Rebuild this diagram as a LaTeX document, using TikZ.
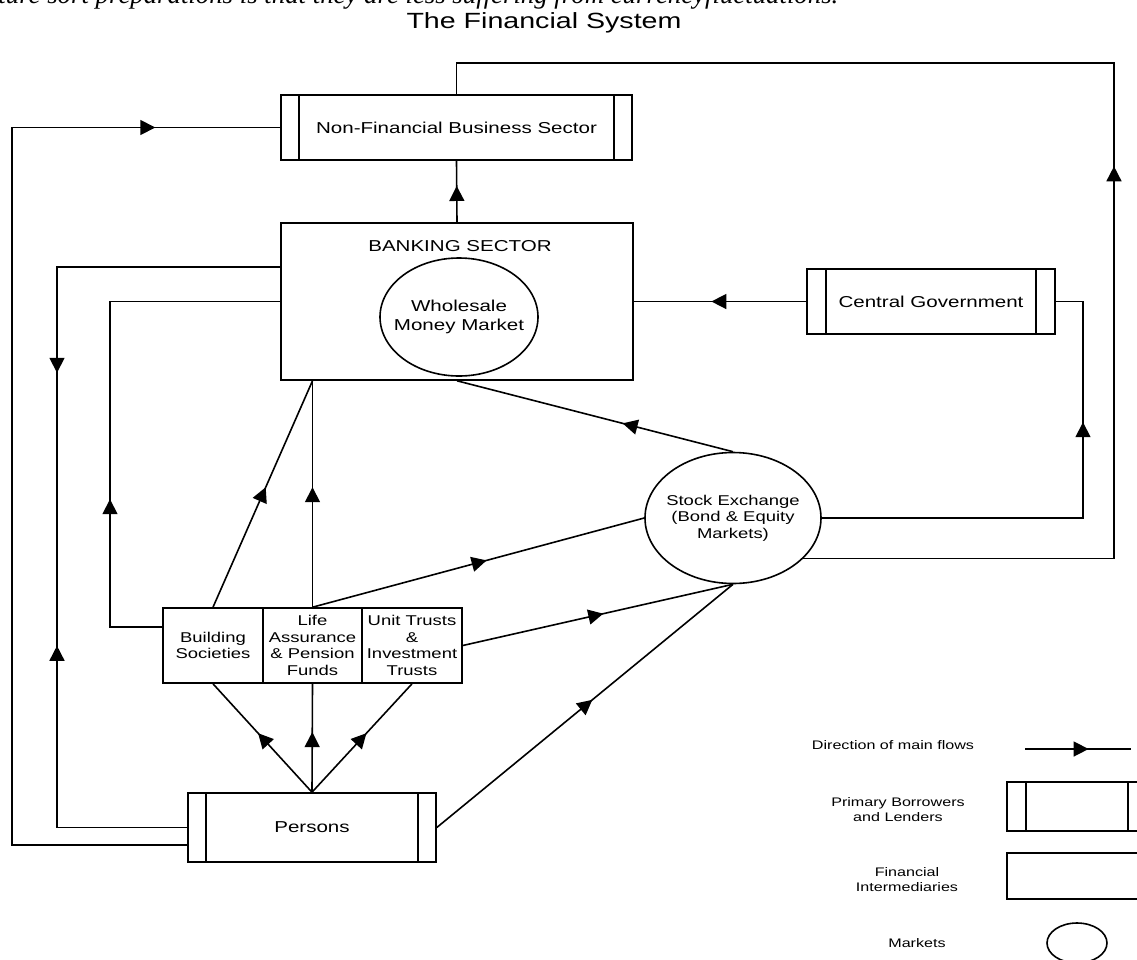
\documentclass[tikz,border=0pt]{standalone}
\usepackage{fontspec}
\setmainfont{Liberation Sans}[FakeStretch=1.3]
\newfontfamily\bodyserif{Liberation Serif}
\usetikzlibrary{arrows.meta,decorations.markings,shapes.geometric,calc}
\newcommand\mainlbl{\fontsize{7.9}{9.6}\selectfont}
\newcommand\smalllbl{\fontsize{7.1}{8.25}\selectfont}
\newcommand\leglbl{\fontsize{6.2}{7.5}\selectfont}
\newcommand\ttlfont{\fontsize{11}{13}\selectfont}
\tikzset{
  flow/.style={draw=black, line width=0.8pt},
  tipat/.style={postaction={decorate,decoration={markings,mark=at position #1 with {\arrow{Triangle[length=7.5pt,width=7.5pt]}}}}},
  tipback/.style={postaction={decorate,decoration={markings,mark=at position #1 with {\arrowreversed{Triangle[length=7.5pt,width=7.5pt]}}}}},
  primary/.style={draw=black, line width=0.8pt, rectangle, inner sep=0pt, align=center, font=\mainlbl,
    path picture={
      \draw[line width=0.8pt] ([xshift=#1]path picture bounding box.north west) -- ([xshift=#1]path picture bounding box.south west);
      \draw[line width=0.8pt] ([xshift=-#1]path picture bounding box.north east) -- ([xshift=-#1]path picture bounding box.south east);
    }},
  primary/.default=9pt,
  interm/.style={draw=black, line width=0.8pt, rectangle, inner sep=0pt, align=center, font=\smalllbl},
  market/.style={draw=black, line width=0.8pt, ellipse, inner sep=0pt},
  lbl/.style={inner sep=0pt, align=center},
}
\begin{document}
\begin{tikzpicture}[x=0.5pt,y=-0.5pt]
\useasboundingbox (0,0) rectangle (1137,960);

% stray line of text and title
\node[font=\bodyserif\itshape\fontsize{13.4}{15}\selectfont, anchor=base west, inner sep=0pt] (topline) at (-2,3) {ture sort preparations is that they are less suffering from currencyfluctuations.};
\node[lbl, font=\ttlfont] (title) at (544,23) {The Financial System};

% main nodes
\node[primary, minimum width=175.5pt, minimum height=32.5pt] (nfbs) at (456.5,127.5) {Non-Financial Business Sector};
\node[interm, minimum width=176pt, minimum height=78.5pt] (bank) at (457,301.5) {};
\node[lbl, font=\mainlbl] (banklbl) at (460,246) {BANKING SECTOR};
\node[market, minimum width=79pt, minimum height=59pt] (wmm) at (459,317) {};
\node[lbl, font=\mainlbl] (wmmtxt) at (wmm.center) {Wholesale\\Money Market};
\node[primary=9.5pt, minimum width=124pt, minimum height=32.5pt] (cg) at (931,301.5) {Central Government};
\node[market, minimum width=88pt, minimum height=65.5pt] (se) at (733,518) {};
\node[lbl, font=\smalllbl] (setxt) at (se.center) {Stock Exchange\\(Bond \& Equity\\Markets)};
\node[interm, minimum width=50pt, minimum height=37.5pt] (bs) at (213,645.5) {Building\\Societies};
\node[interm, minimum width=49.5pt, minimum height=37.5pt] (la) at (312.5,645.5) {Life\\Assurance\\\& Pension\\Funds};
\node[interm, minimum width=50pt, minimum height=37.5pt] (ut) at (412,645.5) {Unit Trusts\\\&\\Investment\\Trusts};
\node[primary, minimum width=124pt, minimum height=34.5pt] (persons) at (312,827.5) {Persons};

% legend
\node[lbl, font=\leglbl] (legflowtxt) at (893,745) {Direction of main flows};
\coordinate (lf1) at (1025,749);
\coordinate (lf2) at (1131,749);
\draw[flow, tipat=0.6] (lf1) -- (lf2);
\node[primary=9.5pt, minimum width=70pt, minimum height=24.5pt] (legprim) at (1077,806.5) {};
\node[lbl, font=\leglbl] (legprimtxt) at (898,809.5) {Primary Borrowers\\and Lenders};
\node[interm, minimum width=70pt, minimum height=23pt] (legfin) at (1077,876) {};
\node[lbl, font=\leglbl] (legfintxt) at (907,879.5) {Financial\\Intermediaries};
\node[market, minimum width=30pt, minimum height=20pt] (legmkt) at (1077,943) {};
\node[lbl, font=\leglbl] (legmkttxt) at (917,943) {Markets};

% connectors
\draw[flow, tipat=0.59] (bank.north) -- (nfbs.south);
\coordinate (rtop) at (1114,63);
\draw[flow, tipat=351.5pt] (se.-30) -| (rtop) -| (nfbs.north);
\draw[flow, tipat=0.55] (cg.west) -- (bank.east);
\coordinate (cgr) at (1083,301.5);
\draw[flow, tipat=178.5pt] (se.east) -| (cgr) -- (cg.east);
\draw[flow, tipat=0.40] (se.north) -- (bank.south);

\coordinate (p57a) at (57,267);
\coordinate (p57b) at (57,827.5);
\draw[flow, tipat=164.5pt, tipback=301pt] ([yshift=17.25pt]bank.west) -- (p57a) -- (p57b) -- (persons.west);

\coordinate (ol1) at (12,845);
\coordinate (ol2) at (12,127.5);
\draw[flow, tipat=518pt] ([yshift=-8.75pt]persons.west) -- (ol1) -- (ol2) -- (nfbs.west);

\coordinate (bl1) at (110,627);
\coordinate (bl2) at (110,301.5);
\draw[flow, tipat=90pt] ([yshift=9.25pt]bs.west) -- (bl1) -- (bl2) -- (bank.west);

\draw[flow, tipat=0.53] (bs.north) -- (la.north |- bank.south);
\draw[flow, tipat=0.53] (la.north) -- (la.north |- bank.south);
\draw[flow, tipat=0.525] (la.north) -- (se.west);
\draw[flow, tipat=0.52] (ut.east) -- (se.south);
\draw[flow, tipat=0.525] (persons.east) -- (se.south);
\draw[flow, tipat=0.545] (persons.north) -- (bs.south);
\draw[flow, tipat=0.555] (persons.north) -- (la.south);
\draw[flow, tipat=0.545] (persons.north) -- (ut.south);
\end{tikzpicture}
\end{document}
